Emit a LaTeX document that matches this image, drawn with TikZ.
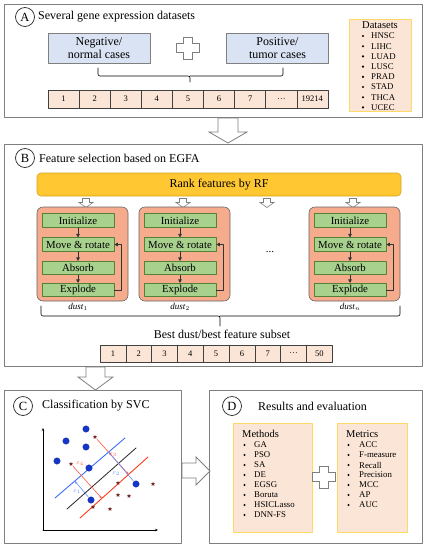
\documentclass[tikz,border=0pt]{standalone}
\usepackage{fontspec}
\setmainfont{Liberation Serif}
\usetikzlibrary{arrows.meta, calc, shapes.geometric}

\definecolor{framegray}{HTML}{7F7F7F}
\definecolor{caseblue}{HTML}{DAE3F3}
\definecolor{peach}{HTML}{FBE5D6}
\definecolor{goldline}{HTML}{FFD966}
\definecolor{rankgold}{HTML}{FFC832}
\definecolor{rankline}{HTML}{D4A21E}
\definecolor{dustred}{HTML}{F6AB8D}
\definecolor{leaf}{HTML}{A9D18E}
\definecolor{leafline}{HTML}{548235}
\definecolor{svcblue}{HTML}{3D6BFF}
\definecolor{svcred}{HTML}{FF3A1A}
\definecolor{dotblue}{HTML}{1436D0}
\definecolor{starred}{HTML}{7A2828}

\tikzset{
  panel/.style={draw=framegray, line width=0.9pt},
  tag/.style={circle, draw=black!85, line width=0.7pt, minimum size=19pt, inner sep=0pt, font=\fontsize{12.5}{13}\selectfont},
  heading/.style={anchor=west, inner sep=0pt, font=\fontsize{12}{14}\selectfont},
  casebox/.style={draw=framegray, fill=caseblue, line width=0.6pt, minimum width=102pt, minimum height=30pt, inner sep=0pt, align=center, font=\fontsize{12}{13}\selectfont},
  cell/.style={draw=black!75, fill=peach, line width=0.6pt, minimum width=31.1pt, minimum height=18pt, inner sep=0pt, font=\fontsize{8.5}{9}\selectfont},
  listbox/.style={draw=goldline, fill=peach, line width=1pt},
  listhead/.style={anchor=west, inner sep=0pt, font=\fontsize{10.5}{11}\selectfont},
  listitem/.style={anchor=west, inner sep=0pt, font=\fontsize{8.8}{9}\selectfont},
  bullet/.style={circle, fill=black, inner sep=0pt, minimum size=2.4pt},
  hollow/.style={draw=framegray, fill=white, line width=0.8pt, line join=miter},
  rankbar/.style={draw=rankline, fill=rankgold, rounded corners=4pt, line width=0.6pt, minimum width=364pt, minimum height=23pt, font=\fontsize{12}{13}\selectfont},
  dustbox/.style={draw=framegray!80!black, fill=dustred, rounded corners=6pt, line width=0.6pt, minimum width=91pt, minimum height=94pt},
  stepbox/.style={draw=leafline, fill=leaf, line width=0.6pt, minimum width=72pt, minimum height=13.5pt, inner sep=0pt, font=\fontsize{10.8}{11}\selectfont},
  flow/.style={-{Triangle[length=3.5pt,width=3.5pt]}, line width=0.6pt, draw=black!80},
  dustlabel/.style={inner sep=0pt, font=\fontsize{9}{10}\selectfont},
  axis/.style={-{Stealth[length=3pt,width=2.5pt]}, line width=0.6pt},
  bluedot/.style={circle, fill=dotblue, draw=dotblue!60!black, line width=0.3pt, inner sep=0pt, minimum size=6.5pt},
  redstar/.style={star, star points=5, star point ratio=2.3, fill=starred, inner sep=0pt, minimum size=4.5pt},
  redarrow/.style={-{Stealth[length=3pt,width=2.2pt]}, draw=svcred!85, line width=0.6pt, shorten <=1pt},
  bluearrow/.style={-{Stealth[length=3pt,width=2.2pt]}, draw=svcblue!80, line width=0.6pt, shorten <=1pt},
  eps/.style={inner sep=0pt, font=\fontsize{6.5}{7}\selectfont},
  plussign/.pic={\draw[hollow] (-4.5,-11) -- (4.5,-11) -- (4.5,-4.5) -- (11.5,-4.5) -- (11.5,4.5) -- (4.5,4.5) -- (4.5,11) -- (-4.5,11) -- (-4.5,4.5) -- (-11.5,4.5) -- (-11.5,-4.5) -- (-4.5,-4.5) -- cycle;},
  droparrow/.pic={\draw[hollow, line width=0.6pt] (-3.5,0) -- (3.5,0) -- (3.5,4) -- (7,4) -- (0,9) -- (-7,4) -- (-3.5,4) -- cycle;}
}

\begin{document}
\begin{tikzpicture}[x=1pt, y=-1pt, line cap=round, line join=round]
\useasboundingbox (0,0) rectangle (427,550);

% A: datasets
\draw[panel] (4,4) rectangle (422,117);
\node[tag] (tagA) at (25,17) {A};
\node[heading] (titleA) at (38,17) {Several gene expression datasets};
\node[casebox] (neg) at (99,48) {Negative/\\normal cases};
\node[casebox] (pos) at (277.5,48) {Positive/\\tumor cases};
\pic at (188,48) {plussign};
\draw[line width=0.6pt, rounded corners=2pt] (98,68) |- (190,76) -- (190,82) (283,68) |- (190,76);
\foreach \t [count=\i] in {1,2,3,4,5,6,7,\dots,19214}
  \node[cell] (gene\i) at ({48+31.1*\i-15.55},99) {\t};

\draw[listbox] (349,19) rectangle (411,111);
\node[listhead, anchor=center] (dsets) at (380,25) {Datasets};
\foreach \t [count=\i] in {HNSC,LIHC,LUAD,LUSC,PRAD,STAD,THCA,UCEC} {
  \node[bullet] (db\i) at (363,{36+10.2*(\i-1)}) {};
  \node[listitem] (ds\i) at (371,{36+10.2*(\i-1)}) {\t};
}

\draw[hollow] (218,118) -- (238,118) -- (238,132) -- (247,132) -- (228,143) -- (209,132) -- (218,132) -- cycle;

% B: feature selection
\draw[panel] (4,144) rectangle (422,366);
\node[tag] (tagB) at (25,158) {B};
\node[heading] (titleB) at (39,158) {Feature selection based on EGFA};
\node[rankbar] (rank) at (219,184.5) {Rank features by RF};
\foreach \x in {86,183,267,353}
  \pic at (\x,198.5) {droparrow};

\foreach \l/\k/\s in {37/1/1,139/2/2,309/3/n} {
  \node[dustbox] (dust\k) at ({\l+45.5},254) {};
  \node[stepbox] (init\k) at ({\l+41},220.5) {Initialize};
  \node[stepbox] (move\k) at ({\l+41},244.5) {Move \& rotate};
  \node[stepbox] (absorb\k) at ({\l+41},268) {Absorb};
  \node[stepbox] (explode\k) at ({\l+41},290) {Explode};
  \draw[flow] (init\k) -- (move\k);
  \draw[flow] (move\k) -- (absorb\k);
  \draw[flow] (absorb\k) -- (explode\k);
  \draw[flow] (explode\k.east) -- ++(7,0) |- (move\k.east);
  \node[dustlabel] (dl\k) at ({\l+41},307) {\textit{dust}$_{\s}$};
}
\node[font=\fontsize{11}{11}\selectfont] (more) at (270,252) {...};

\draw[line width=0.6pt, rounded corners=2pt] (41,306) |- (220,316) -- (220,326) (400,306) |- (220,316);
\node[font=\fontsize{12}{13}\selectfont, inner sep=0pt] (best) at (222,334) {Best dust/best feature subset};
\foreach \t [count=\i] in {1,2,3,4,5,6,7,\dots,50}
  \node[cell, minimum width=25.8pt, minimum height=17pt] (sel\i) at ({100+25.8*\i-12.9},353.5) {\t};

\draw[hollow] (86,367) -- (105,367) -- (105,377) -- (113,377) -- (95.5,390) -- (78,377) -- (86,377) -- cycle;

% C: classification
\draw[panel] (4,390) rectangle (181,543);
\node[tag] (tagC) at (23,406) {C};
\node[heading] (titleC) at (42,406) {Classification by SVC};

\coordinate (origin) at (43,530);
\coordinate (ytop) at (43,428);
\coordinate (xend) at (158,530);
\draw[axis] (origin) -- (ytop);
\draw[axis] (origin) -- (xend);

\coordinate (b1) at (55,498);
\coordinate (b2) at (125,438);
\coordinate (k1) at (67,509);
\coordinate (k2) at (136,448);
\coordinate (r1) at (80,518);
\coordinate (r2) at (148,457);
\draw[svcblue, line width=0.9pt] (b1) -- (b2);
\draw[black!85, line width=0.8pt] (k1) -- (k2);
\draw[svcred, line width=0.9pt] (r1) -- (r2);

\foreach \p [count=\i] in {(86,429),(66,441),(86,447),(57,461),(89,468),(136,484),(91,500)}
  \node[bluedot] (pos\i) at \p {};
\foreach \p [count=\i] in {(95,437),(71,464),(118,483),(153,484),(118,495),(129,496),(93,507),(110,509)}
  \node[redstar] (neg\i) at \p {};

\draw[redarrow] (neg1) -- ($(r1)!(neg1)!(r2)$);
\draw[redarrow] (neg2) -- ($(r1)!(neg2)!(r2)$);
\draw[bluearrow] (pos6) -- ($(b1)!(pos6)!(b2)$);
\draw[bluearrow] (pos7) -- ($(b1)!(pos7)!(b2)$);
\node[eps, text=svcred!85] (e3) at (113,455) {$\varepsilon_3$};
\node[eps, text=svcred!85] (e4) at (80,464) {$\varepsilon_4$};
\node[eps, text=svcblue!80] (e2) at (116,474) {$\varepsilon_2$};
\node[eps, text=svcblue!80] (e1) at (77,492) {$\varepsilon_1$};

\draw[hollow] (182,463) -- (196,463) -- (196,457) -- (210,471) -- (196,485) -- (196,478) -- (182,478) -- cycle;

% D: results
\draw[panel] (209,390) rectangle (422,543);
\node[tag] (tagD) at (232,406) {D};
\node[heading] (titleD) at (258,406) {Results and evaluation};

\draw[listbox] (233,423) rectangle (312,532);
\draw[listbox] (337,423) rectangle (407,532);
\pic at (324,477) {plussign};
\node[listhead] (meth) at (242,434) {Methods};
\foreach \t [count=\i] in {GA,PSO,SA,DE,EGSG,Boruta,HSICLasso,DNN-FS} {
  \node[bullet] (mb\i) at (244.5,{445+10*(\i-1)}) {};
  \node[listitem] (mt\i) at (254,{445+10*(\i-1)}) {\t};
}
\node[listhead] (metr) at (346,434) {Metrics};
\foreach \t [count=\i] in {ACC,F-measure,Recall,Precision,MCC,AP,AUC} {
  \node[bullet] (rb\i) at (348.5,{445+10*(\i-1)}) {};
  \node[listitem] (rt\i) at (359,{445+10*(\i-1)}) {\t};
}

\end{tikzpicture}
\end{document}
